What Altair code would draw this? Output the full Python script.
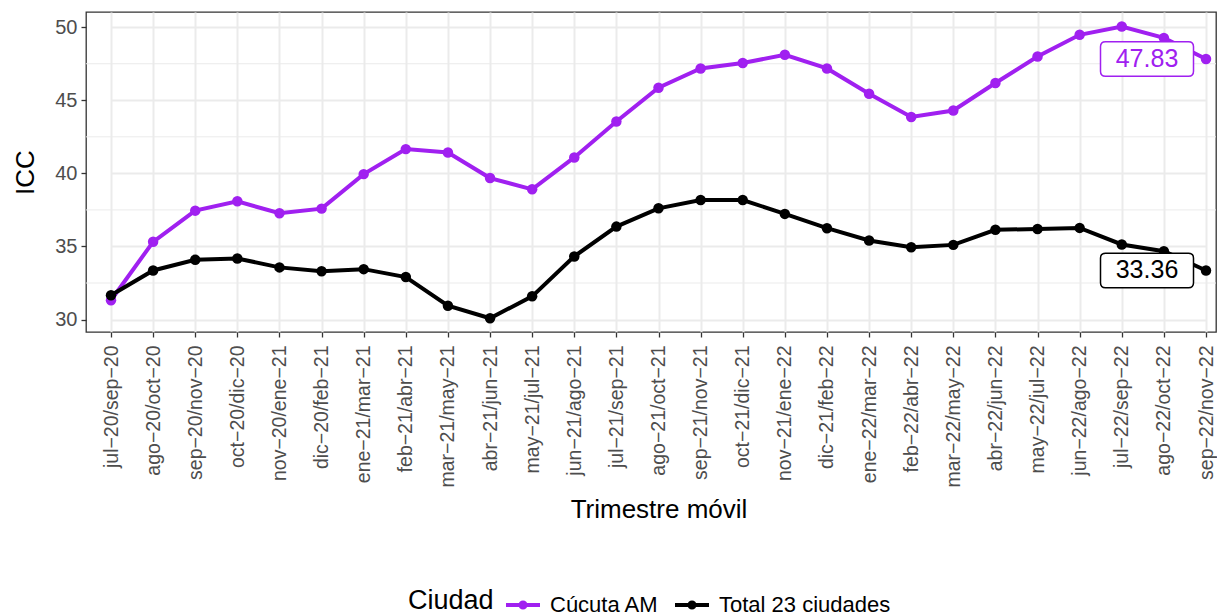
import altair as alt
import pandas as pd

periodos = [
    "jul−20/sep−20", "ago−20/oct−20", "sep−20/nov−20", "oct−20/dic−20",
    "nov−20/ene−21", "dic−20/feb−21", "ene−21/mar−21", "feb−21/abr−21",
    "mar−21/may−21", "abr−21/jun−21", "may−21/jul−21", "jun−21/ago−21",
    "jul−21/sep−21", "ago−21/oct−21", "sep−21/nov−21", "oct−21/dic−21",
    "nov−21/ene−22", "dic−21/feb−22", "ene−22/mar−22", "feb−22/abr−22",
    "mar−22/may−22", "abr−22/jun−22", "may−22/jul−22", "jun−22/ago−22",
    "jul−22/sep−22", "ago−22/oct−22", "sep−22/nov−22",
]
cucuta = [31.32, 35.32, 37.45, 38.09, 37.27, 37.59, 39.95, 41.66, 41.43, 39.68,
          38.91, 41.09, 43.55, 45.86, 47.18, 47.55, 48.11, 47.18, 45.45, 43.86,
          44.30, 46.18, 48.00, 49.48, 50.05, 49.27, 47.83]
total = [31.66, 33.36, 34.09, 34.18, 33.57, 33.30, 33.45, 32.91, 30.95, 30.09,
         31.59, 34.32, 36.36, 37.61, 38.18, 38.18, 37.23, 36.25, 35.41, 34.95,
         35.11, 36.14, 36.20, 36.27, 35.14, 34.68, 33.36]
series = ["Cúcuta AM", "Total 23 ciudades"]
colores = ["#A020F0", "#000000"]
y_ticks = [30, 35, 40, 45, 50]
y_minor = [32.5, 37.5, 42.5, 47.5]

rows = []
for name, vals in zip(series, [cucuta, total]):
    for p, v in zip(periodos, vals):
        rows.append({"periodo": p, "valor": v, "Ciudad": name})
df = pd.DataFrame(rows)
df_last = df[df["periodo"] == periodos[-1]]
df_minor = pd.DataFrame({"valor": y_minor})

FONT = "Liberation Sans"
yscale = alt.Scale(domain=[29.15, 51.04], nice=False, zero=False)
xscale = alt.Scale(type="point", range=[25, 1120], padding=0)
cscale = alt.Scale(domain=series, range=colores)

yaxis = alt.Axis(values=y_ticks, labelFontSize=20, labelColor="#4D4D4D",
                 labelPadding=4, tickSize=5, tickColor="#333333", tickWidth=1.3,
                 grid=True, gridColor="#EBEBEB", gridWidth=2, domain=False,
                 titleFontSize=26, titleFontWeight="normal", titleColor="#000000",
                 titlePadding=16)

X = alt.X("periodo:N", sort=periodos, scale=xscale, title="Trimestre móvil",
          axis=alt.Axis(labelAngle=270, labelFontSize=19.5, labelColor="#4D4D4D",
                        labelPadding=8, tickSize=5, tickColor="#333333", tickWidth=1.3,
                        grid=True, gridColor="#EBEBEB", gridWidth=2, domain=False,
                        titleFontSize=26, titleFontWeight="normal", titleColor="#000000",
                        titlePadding=10, labelOverlap=False))
Y = alt.Y("valor:Q", scale=yscale, title="ICC", axis=yaxis)

minor = alt.Chart(df_minor).mark_rule(color="#EBEBEB", strokeWidth=1).encode(
    y=alt.Y("valor:Q", scale=yscale, title="ICC", axis=yaxis)
)

legend_path = ("M-1,0H1M0.15,0A0.15,0.15,0,1,1,-0.15,0A0.15,0.15,0,1,1,0.15,0")

lines = alt.Chart(df).mark_line(strokeWidth=4).encode(
    x=X, y=Y,
    color=alt.Color("Ciudad:N", scale=cscale,
                    legend=alt.Legend(orient="none", legendX=322, legendY=574,
                                      direction="horizontal", titleOrient="left",
                                      title="Ciudad", titleFontSize=27,
                                      titleFontWeight="normal", titleColor="#000000",
                                      labelFontSize=22, labelColor="#000000",
                                      labelLimit=0,
                                      symbolType=legend_path, symbolSize=1156,
                                      symbolStrokeWidth=4, labelOffset=8,
                                      columnPadding=8, titlePadding=10,
                                      titleBaseline="middle")),
)
points = alt.Chart(df).mark_circle(size=110, opacity=1).encode(
    x=X, y=Y, color=alt.Color("Ciudad:N", scale=cscale)
)

box_path = ("M-0.8925,-0.371H0.8925Q1,-0.371,1,-0.2635V0.2635Q1,0.371,0.8925,0.371"
            "H-0.8925Q-1,0.371,-1,0.2635V-0.2635Q-1,-0.371,-0.8925,-0.371Z")
boxes = alt.Chart(df_last).mark_point(shape=box_path, size=8649, filled=True,
                                      fill="white", strokeWidth=1.5, xOffset=-59,
                                      opacity=1, fillOpacity=1, strokeOpacity=1).encode(
    x=X, y=Y, stroke=alt.Stroke("Ciudad:N", scale=cscale, legend=None)
)
texts = alt.Chart(df_last).mark_text(dx=-59, fontSize=25, font=FONT).encode(
    x=X, y=Y, text=alt.Text("valor:Q", format=".2f"),
    color=alt.Color("Ciudad:N", scale=cscale, legend=None)
)

chart = alt.layer(minor, lines, points, boxes, texts).properties(
    width=1130, height=320,
    padding={"left": 4, "top": 4, "right": 0, "bottom": 0},
).configure(font=FONT).configure_view(stroke="#333333", strokeWidth=1.3)

chart.save("out.html", embed_options={"renderer": "svg", "actions": False})
